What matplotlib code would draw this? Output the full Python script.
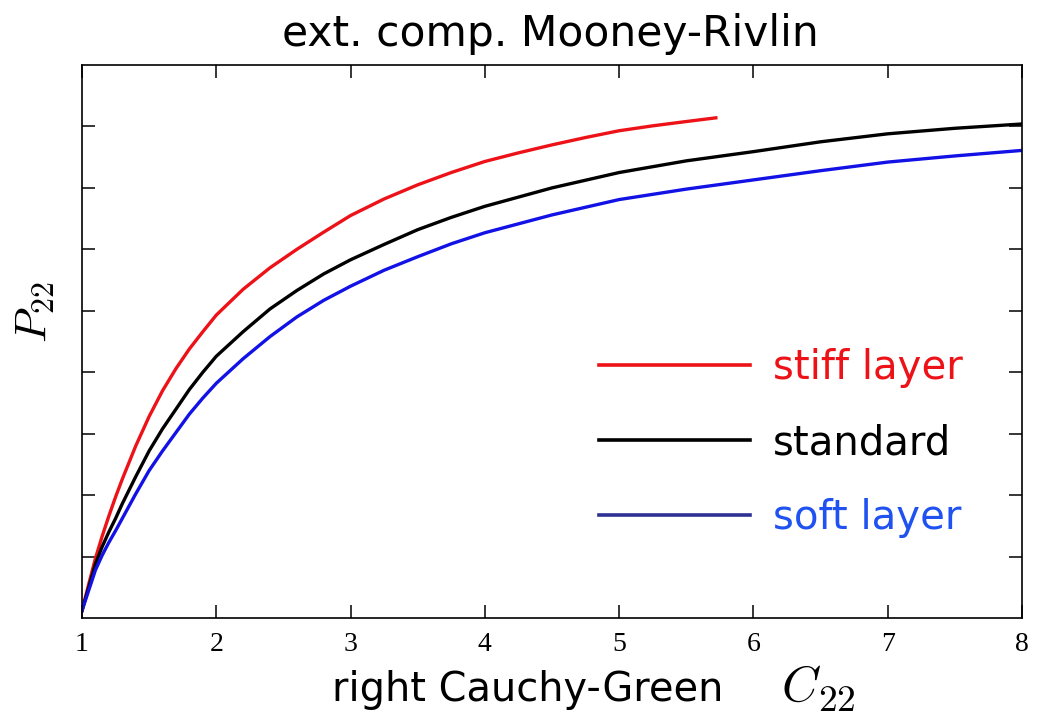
import matplotlib
matplotlib.use("Agg")
import matplotlib.pyplot as plt
from matplotlib.lines import Line2D

# P22 über C22
x_stiff = [1.0, 1.05, 1.1, 1.15, 1.2, 1.25, 1.3, 1.4, 1.5, 1.6, 1.7, 1.8, 1.9, 2.0,
           2.2, 2.4, 2.6, 2.8, 3.0, 3.25, 3.5, 3.75, 4.0, 4.25, 4.5, 4.75, 5.0, 5.25, 5.5, 5.72]
p_stiff = [0.12, 0.55, 0.97, 1.33, 1.66, 1.97, 2.26, 2.80, 3.28, 3.70, 4.06, 4.38, 4.66, 4.93,
           5.35, 5.70, 6.00, 6.28, 6.55, 6.82, 7.05, 7.25, 7.43, 7.57, 7.70, 7.82, 7.93, 8.01, 8.08, 8.14]

x_std = [1.0, 1.05, 1.1, 1.15, 1.2, 1.25, 1.3, 1.4, 1.5, 1.6, 1.7, 1.8, 1.9, 2.0,
         2.2, 2.4, 2.6, 2.8, 3.0, 3.25, 3.5, 3.75, 4.0, 4.5, 5.0, 5.5, 6.0, 6.5, 7.0, 7.5, 8.0]
p_std = [0.12, 0.50, 0.88, 1.16, 1.40, 1.62, 1.86, 2.30, 2.72, 3.08, 3.40, 3.72, 4.00, 4.26,
         4.66, 5.03, 5.33, 5.60, 5.83, 6.08, 6.32, 6.52, 6.70, 7.00, 7.25, 7.44, 7.59, 7.75, 7.88, 7.97, 8.04]
p_soft = [0.12, 0.45, 0.78, 1.02, 1.23, 1.42, 1.62, 2.02, 2.40, 2.72, 3.02, 3.32, 3.58, 3.82,
          4.22, 4.58, 4.90, 5.17, 5.40, 5.66, 5.88, 6.09, 6.27, 6.56, 6.81, 6.98, 7.13, 7.28, 7.42, 7.52, 7.61]

x_ticks = [1, 2, 3, 4, 5, 6, 7, 8]
y_ticks = [1, 2, 3, 4, 5, 6, 7, 8]

labels = ["stiff layer", "standard", "soft layer"]
line_colors = ["#ec1218", "black", "#1212e6"]
legend_line_colors = ["#ec1218", "black", "#2e3192"]
text_colors = ["#ec1218", "black", "#1f52f0"]

SANS = "DejaVu Sans"
SERIF = "Liberation Serif"

plt.rcParams["mathtext.fontset"] = "cm"

fig = plt.figure(figsize=(10.48, 7.22), dpi=100)
ax = fig.add_axes([82 / 1048, 1 - 618 / 722, 940 / 1048, 553 / 722])

ax.plot(x_stiff, p_stiff, color=line_colors[0], lw=2.4)
ax.plot(x_std, p_std, color=line_colors[1], lw=2.4)
ax.plot(x_std, p_soft, color=line_colors[2], lw=2.4)

ax.set_xlim(1, 8)
ax.set_ylim(0, 9)
ax.set_xticks(x_ticks)
ax.set_yticks(y_ticks)
ax.set_xticklabels([str(t) for t in x_ticks], fontfamily=SERIF, fontsize=20)
ax.set_yticklabels([])
ax.tick_params(direction="in", length=9.5, width=1.1, top=True, right=True, pad=10)
for s in ax.spines.values():
    s.set_linewidth(1.2)

handles = [Line2D([], [], color=c, lw=2.6) for c in legend_line_colors]
leg = ax.legend(handles, labels, loc="upper left", bbox_to_anchor=(599 / 1048, 1 - 348 / 722),
                bbox_transform=fig.transFigure, frameon=False,
                handlelength=3.75, handletextpad=0.57, labelspacing=0.87,
                borderpad=0, borderaxespad=0, prop={"family": SANS, "size": 29})
for t, c in zip(leg.get_texts(), text_colors):
    t.set_color(c)

fig.text(550 / 1048, 1 - 46 / 722, "ext. comp. Mooney-Rivlin", ha="center", va="baseline",
         fontfamily=SANS, fontsize=30.5)
fig.text(332 / 1048, 1 - 701 / 722, "right Cauchy-Green", ha="left", va="baseline",
         fontfamily=SANS, fontsize=28.7)
fig.text(781 / 1048, 1 - 701 / 722, "$C$", ha="left", va="baseline", fontsize=36)
fig.text(818 / 1048, 1 - 711 / 722, "$22$", ha="left", va="baseline", fontsize=27)
fig.text(35 / 1048, 1 - 312 / 722, "$P_{22}$", ha="center", va="center", rotation=90, fontsize=33)

fig.savefig("out.png", dpi=100, facecolor="white")
